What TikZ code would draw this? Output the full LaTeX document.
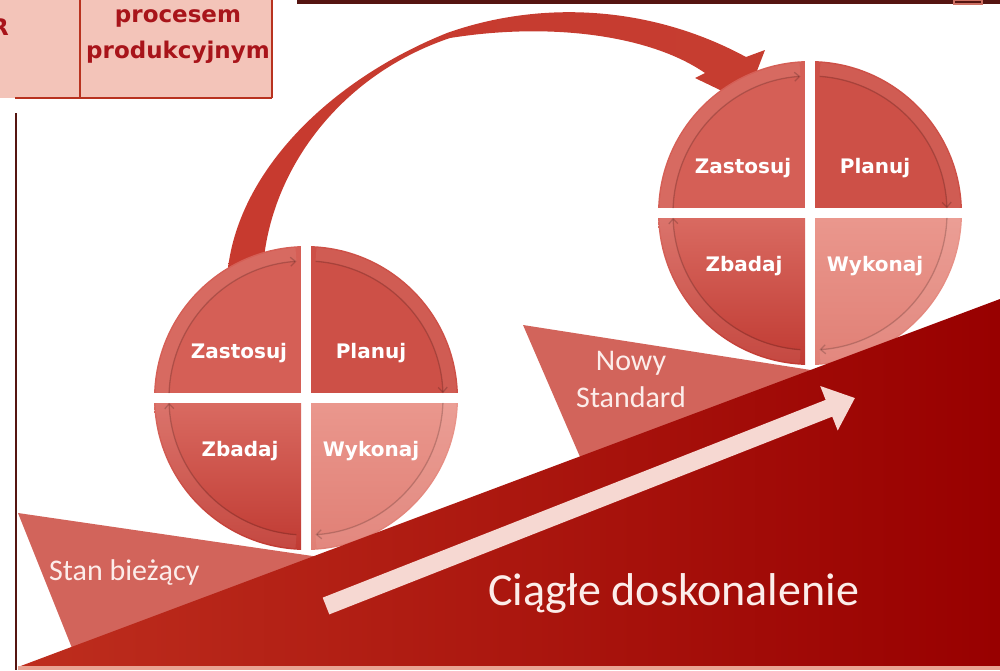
\documentclass[tikz,border=0pt]{standalone}
\usepackage{fontspec}
\setmainfont{Carlito}
\newfontfamily\qfont{DejaVu Sans}
\usetikzlibrary{arrows.meta}

\definecolor{tabfill}{HTML}{F3C4B9}
\definecolor{tabline}{HTML}{B8321F}
\definecolor{tabtext}{HTML}{A8141A}
\definecolor{darkbar}{HTML}{551511}
\definecolor{qTL}{HTML}{D55F56}
\definecolor{qTR}{HTML}{CD5047}
\definecolor{qBLt}{HTML}{D96A61}
\definecolor{qBLb}{HTML}{C03A32}
\definecolor{qBRt}{HTML}{EA978D}
\definecolor{qBRb}{HTML}{E07F75}
\definecolor{wedgecol}{HTML}{D2645B}
\definecolor{slopeL}{HTML}{BE2E1E}
\definecolor{slopeR}{HTML}{980000}
\definecolor{palearrow}{HTML}{F6D8D2}
\definecolor{arrowA}{HTML}{C73A2F}
\definecolor{arrowM}{HTML}{EA9890}
\definecolor{arrowB}{HTML}{C63D30}
\definecolor{softwhite}{HTML}{FCEDEA}
\definecolor{stripcol}{HTML}{E9A393}

\tikzset{
  qlabel/.style={font=\qfont\bfseries\fontsize{20}{23}\selectfont, text=white, inner sep=0pt, anchor=base},
  tabtxt/.style={font=\qfont\bfseries\fontsize{23}{26}\selectfont, text=tabtext, inner sep=0pt},
  ringband/.style={white, opacity=0.07, line width=13pt},
  ringline/.style={draw=black, opacity=0.18, line width=1.3pt, -{Straight Barb[length=5pt,width=9pt]}},
  wedgefill/.style={fill=wedgecol},
  slopetext/.style={text=softwhite, inner sep=0pt}
}

\newcommand\pdcaCircle[2]{%
\begin{scope}[shift={#1}]
  \begin{scope}
    \clip (0,0) circle[radius=152];
    \fill[qTL] (-153,-153) rectangle (-5,-5);
    \fill[qTR] (5,-153) rectangle (153,-5);
    \shade[top color=qBLt, bottom color=qBLb] (-153,5) rectangle (-5,153);
    \shade[top color=qBRt, bottom color=qBRb] (5,5) rectangle (153,153);
  \end{scope}
  \foreach \a/\b in {182/266, 274/358, 2/86, 94/178} {
    \draw[ringband] (\a:144) arc[start angle=\a, end angle=\b, radius=144];
    \draw[ringline] (\a:137) arc[start angle=\a, end angle=\b, radius=137];
  }
  \node[qlabel] (#2zas) at (-67,-40) {Zastosuj};
  \node[qlabel] (#2pla) at (65,-40) {Planuj};
  \node[qlabel] (#2zba) at (-66,58) {Zbadaj};
  \node[qlabel] (#2wyk) at (65,58) {Wykonaj};
\end{scope}}

\begin{document}
\begin{tikzpicture}[x=1pt, y=-1pt]
\useasboundingbox (0,0) rectangle (1000,670);

% table fragment top-left
\fill[tabfill] (0,0) rectangle (272,98);
\draw[tabline, line width=2.5pt] (80,0) -- (80,98);
\draw[tabline, line width=2.5pt] (272,0) -- (272,98);
\draw[tabline, line width=2.5pt] (15,98) -- (272,98);
\node[tabtxt, anchor=base east] (tR) at (9,35) {R};
\node[tabtxt, anchor=base] (tproc) at (178,22) {procesem};
\node[tabtxt, anchor=base] (tprod) at (178,58) {produkcyjnym};

% top bar and left rule
\fill[darkbar] (297,0) rectangle (1000,3.5);
\draw[tabline!70, line width=1.2pt] (954,0) rectangle (982,4);
\draw[darkbar, line width=2.5pt] (16,113) -- (16,670);

\coordinate (cL) at (306,398);
\coordinate (cR) at (810,213);

% big curved arrow from left cycle to right cycle
\shade[left color=arrowA, middle color=arrowM, right color=arrowB]
  (228,268) .. controls (240,170) and (330,80) .. (447,33)
  .. controls (540,0) and (650,5) .. (746,57)
  -- (765,50) -- (745,102) -- (695,78) -- (705,73)
  .. controls (650,35) and (550,22) .. (450,38)
  .. controls (340,75) and (270,170) .. (263,268) -- cycle;

% wedges
\fill[wedgefill] (18,513) -- (340,560) -- (80,668) -- cycle;
\fill[wedgefill] (523,325) -- (830,373) -- (590,480) -- cycle;

% cycles
\pdcaCircle{(cL)}{L}
\pdcaCircle{(cR)}{R}

% slope
\shade[left color=slopeL, right color=slopeR] (18,667) -- (1000,299) -- (1000,667) -- cycle;
\fill[stripcol] (18,666) rectangle (1000,670);

% pale arrow on slope
\coordinate (pa1) at (326,606);
\coordinate (pa2) at (855,398);
\draw[palearrow, line width=18pt, -{Triangle[length=28pt,width=46pt]}] (pa1) -- (pa2);

% texts
\node[slopetext, anchor=base west, font=\fontsize{46}{50}\selectfont] (cd) at (488,605) {Ciągłe doskonalenie};
\node[slopetext, anchor=base west, font=\fontsize{30}{34}\selectfont] (sb) at (49,580) {Stan bieżący};
\node[slopetext, align=center, font=\fontsize{30}{37}\selectfont] (ns) at (631,379) {Nowy\\Standard};
\end{tikzpicture}
\end{document}
